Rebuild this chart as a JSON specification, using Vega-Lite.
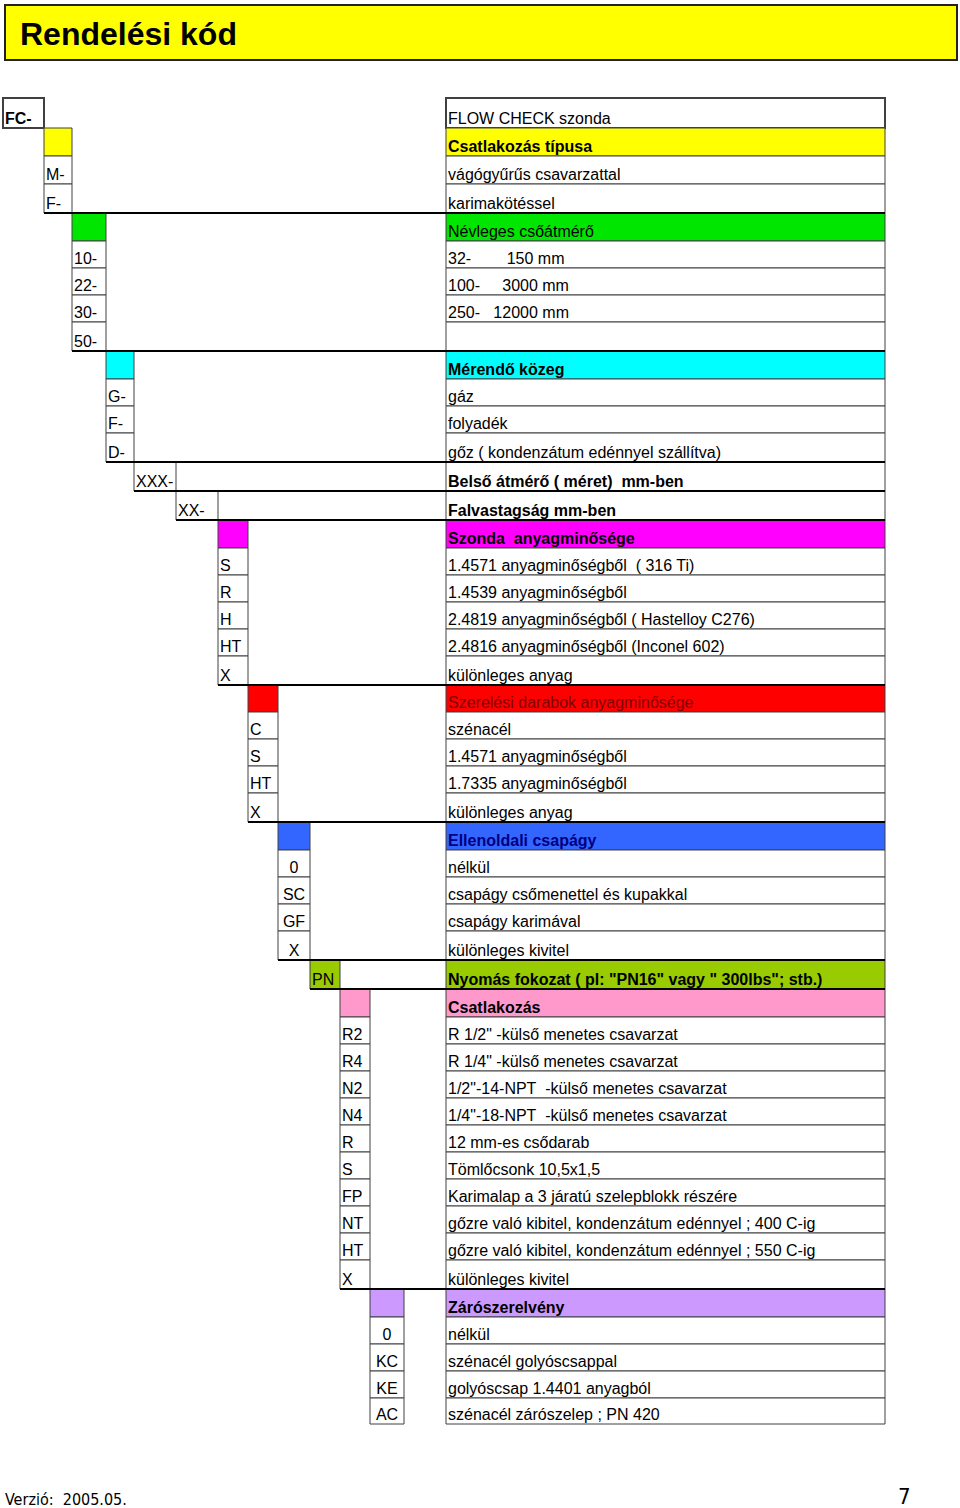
{
  "$schema": "https://vega.github.io/schema/vega-lite/v6.json",
  "width": 960,
  "height": 1508,
  "autosize": {"type": "none"},
  "padding": 0,
  "background": "white",
  "config": {"view": {"stroke": null}},
  "data": {"values": [
    {"r": 0, "c": 0, "code": "FC-", "desc": "FLOW CHECK szonda", "g": "FLOW CHECK", "k": "top"},
    {"r": 1, "c": 1, "code": "", "desc": "Csatlakozás típusa", "g": "Csatlakozás típusa", "k": "head"},
    {"r": 2, "c": 1, "code": "M-", "desc": "vágógyűrűs csavarzattal", "g": "Csatlakozás típusa", "k": "item"},
    {"r": 3, "c": 1, "code": "F-", "desc": "karimakötéssel", "g": "Csatlakozás típusa", "k": "item"},
    {"r": 4, "c": 2, "code": "", "desc": "\u00a0Névleges csőátmérő", "g": "Névleges csőátmérő", "k": "headplain"},
    {"r": 5, "c": 2, "code": "10-", "desc": "32-\u00a0\u00a0\u00a0\u00a0\u00a0\u00a0\u00a0\u00a0150 mm", "g": "Névleges csőátmérő", "k": "item"},
    {"r": 6, "c": 2, "code": "22-", "desc": "100-\u00a0\u00a0\u00a0\u00a0\u00a03000 mm", "g": "Névleges csőátmérő", "k": "item"},
    {"r": 7, "c": 2, "code": "30-", "desc": "250-\u00a0\u00a0\u00a012000 mm", "g": "Névleges csőátmérő", "k": "item"},
    {"r": 8, "c": 2, "code": "50-", "desc": "", "g": "Névleges csőátmérő", "k": "item"},
    {"r": 9, "c": 3, "code": "", "desc": "Mérendő közeg", "g": "Mérendő közeg", "k": "head"},
    {"r": 10, "c": 3, "code": "G-", "desc": "gáz", "g": "Mérendő közeg", "k": "item"},
    {"r": 11, "c": 3, "code": "F-", "desc": "folyadék", "g": "Mérendő közeg", "k": "item"},
    {"r": 12, "c": 3, "code": "D-", "desc": "gőz ( kondenzátum edénnyel szállítva)", "g": "Mérendő közeg", "k": "item"},
    {"r": 13, "c": 4, "code": "XXX-", "desc": "Belső átmérő ( méret)\u00a0\u00a0mm-ben", "g": "Belső átmérő", "k": "param"},
    {"r": 14, "c": 5, "code": "XX-", "desc": "Falvastagság mm-ben", "g": "Falvastagság", "k": "param"},
    {"r": 15, "c": 6, "code": "", "desc": "Szonda\u00a0\u00a0anyagminősége", "g": "Szonda anyagminősége", "k": "head"},
    {"r": 16, "c": 6, "code": "S", "desc": "1.4571 anyagminőségből\u00a0\u00a0( 316 Ti)", "g": "Szonda anyagminősége", "k": "item"},
    {"r": 17, "c": 6, "code": "R", "desc": "1.4539 anyagminőségből", "g": "Szonda anyagminősége", "k": "item"},
    {"r": 18, "c": 6, "code": "H", "desc": "2.4819 anyagminőségből ( Hastelloy C276)", "g": "Szonda anyagminősége", "k": "item"},
    {"r": 19, "c": 6, "code": "HT", "desc": "2.4816 anyagminőségből (Inconel 602)", "g": "Szonda anyagminősége", "k": "item"},
    {"r": 20, "c": 6, "code": "X", "desc": "különleges anyag", "g": "Szonda anyagminősége", "k": "item"},
    {"r": 21, "c": 7, "code": "", "desc": "Szerelési darabok anyagminősége", "g": "Szerelési darabok anyagminősége", "k": "headplain"},
    {"r": 22, "c": 7, "code": "C", "desc": "szénacél", "g": "Szerelési darabok anyagminősége", "k": "item"},
    {"r": 23, "c": 7, "code": "S", "desc": "1.4571 anyagminőségből", "g": "Szerelési darabok anyagminősége", "k": "item"},
    {"r": 24, "c": 7, "code": "HT", "desc": "1.7335 anyagminőségből", "g": "Szerelési darabok anyagminősége", "k": "item"},
    {"r": 25, "c": 7, "code": "X", "desc": "különleges anyag", "g": "Szerelési darabok anyagminősége", "k": "item"},
    {"r": 26, "c": 8, "code": "", "desc": "Ellenoldali csapágy", "g": "Ellenoldali csapágy", "k": "head"},
    {"r": 27, "c": 8, "code": "0", "desc": "nélkül", "g": "Ellenoldali csapágy", "k": "item"},
    {"r": 28, "c": 8, "code": "SC", "desc": "csapágy csőmenettel és kupakkal", "g": "Ellenoldali csapágy", "k": "item"},
    {"r": 29, "c": 8, "code": "GF", "desc": "csapágy karimával", "g": "Ellenoldali csapágy", "k": "item"},
    {"r": 30, "c": 8, "code": "X", "desc": "különleges kivitel", "g": "Ellenoldali csapágy", "k": "item"},
    {"r": 31, "c": 9, "code": "PN", "desc": "Nyomás fokozat ( pl: \"PN16\" vagy \" 300lbs\"; stb.)", "g": "Nyomás fokozat", "k": "pn"},
    {"r": 32, "c": 10, "code": "", "desc": "Csatlakozás", "g": "Csatlakozás", "k": "head"},
    {"r": 33, "c": 10, "code": "R2", "desc": "R 1/2\" -külső menetes csavarzat", "g": "Csatlakozás", "k": "item"},
    {"r": 34, "c": 10, "code": "R4", "desc": "R 1/4\" -külső menetes csavarzat", "g": "Csatlakozás", "k": "item"},
    {"r": 35, "c": 10, "code": "N2", "desc": "1/2\"-14-NPT\u00a0\u00a0-külső menetes csavarzat", "g": "Csatlakozás", "k": "item"},
    {"r": 36, "c": 10, "code": "N4", "desc": "1/4\"-18-NPT\u00a0\u00a0-külső menetes csavarzat", "g": "Csatlakozás", "k": "item"},
    {"r": 37, "c": 10, "code": "R", "desc": "12 mm-es csődarab", "g": "Csatlakozás", "k": "item"},
    {"r": 38, "c": 10, "code": "S", "desc": "Tömlőcsonk 10,5x1,5", "g": "Csatlakozás", "k": "item"},
    {"r": 39, "c": 10, "code": "FP", "desc": "Karimalap a 3 járatú szelepblokk részére", "g": "Csatlakozás", "k": "item"},
    {"r": 40, "c": 10, "code": "NT", "desc": "gőzre való kibitel, kondenzátum edénnyel ; 400 C-ig", "g": "Csatlakozás", "k": "item"},
    {"r": 41, "c": 10, "code": "HT", "desc": "gőzre való kibitel, kondenzátum edénnyel ; 550 C-ig", "g": "Csatlakozás", "k": "item"},
    {"r": 42, "c": 10, "code": "X", "desc": "különleges kivitel", "g": "Csatlakozás", "k": "item"},
    {"r": 43, "c": 11, "code": "", "desc": "Zárószerelvény", "g": "Zárószerelvény", "k": "head"},
    {"r": 44, "c": 11, "code": "0", "desc": "nélkül", "g": "Zárószerelvény", "k": "item"},
    {"r": 45, "c": 11, "code": "KC", "desc": "szénacél golyóscsappal", "g": "Zárószerelvény", "k": "item"},
    {"r": 46, "c": 11, "code": "KE", "desc": "golyóscsap 1.4401 anyagból", "g": "Zárószerelvény", "k": "item"},
    {"r": 47, "c": 11, "code": "AC", "desc": "szénacél zárószelep ; PN 420", "g": "Zárószerelvény", "k": "item"}
  ]},
  "transform": [
    {"calculate": "datum.r + 1", "as": "rb"},
    {"calculate": "datum.c + 1", "as": "c1"},
    {"calculate": "datum.c + 0.5", "as": "cm"}
  ],
  "layer": [
    {
      "mark": {"type": "rect", "stroke": "#404040"},
      "encoding": {
        "x": {"field": "c", "type": "quantitative", "axis": null, "scale": {"type": "linear", "domain": [0,1,2,3,4,5,6,7,8,9,10,11,12,13,14,15], "range": [3,44,72,106,134,176,218,248,278,310,340,370,404,446,885,957], "nice": false, "zero": false}},
        "x2": {"field": "c1"},
        "y": {"field": "r", "type": "quantitative", "axis": null, "scale": {"type": "linear", "domain": [-3,-2,0,1,2,3,4,5,6,7,8,9,10,11,12,13,14,15,16,17,18,19,20,21,22,23,24,25,26,27,28,29,30,31,32,33,34,35,36,37,38,39,40,41,42,43,44,45,46,47,48,49], "range": [5,60,98,128,156,184,213,241,268,295,322,351,379,406,433,462,491,520,548,575,602,629,656,685,712,739,766,793,822,850,877,904,931,960,989,1017,1044,1071,1098,1125,1152,1179,1206,1233,1260,1289,1317,1344,1371,1398,1424,1505], "nice": false, "zero": false}},
        "y2": {"field": "rb"},
        "fill": {
          "condition": {"test": "datum.k === 'head' || datum.k === 'headplain' || datum.k === 'pn'", "field": "g", "type": "nominal", "legend": null,
            "scale": {"domain": ["Csatlakozás típusa", "Névleges csőátmérő", "Mérendő közeg", "Szonda anyagminősége", "Szerelési darabok anyagminősége", "Ellenoldali csapágy", "Nyomás fokozat", "Csatlakozás", "Zárószerelvény"],
                      "range": ["#ffff00", "#00e600", "#00ffff", "#ff00ff", "#ff0000", "#3366ff", "#99cc00", "#ff99cc", "#cc99ff"]}},
          "value": "white"
        },
        "strokeWidth": {"condition": {"test": "datum.k === 'top'", "value": 2}, "value": 1}
      }
    },
    {
      "mark": {"type": "rect", "stroke": "#404040"},
      "encoding": {
        "x": {"datum": 13, "type": "quantitative"},
        "x2": {"datum": 14},
        "y": {"field": "r", "type": "quantitative"},
        "y2": {"field": "rb"},
        "fill": {
          "condition": {"test": "datum.k === 'head' || datum.k === 'headplain' || datum.k === 'pn'", "field": "g", "type": "nominal", "legend": null},
          "value": "white"
        },
        "strokeWidth": {"condition": {"test": "datum.k === 'top'", "value": 2}, "value": 1}
      }
    },
    {
      "transform": [
        {"joinaggregate": [{"op": "max", "field": "r", "as": "mr"}], "groupby": ["g"]},
        {"filter": "datum.r === datum.mr && datum.k !== 'top' && datum.g !== 'Zárószerelvény'"}
      ],
      "mark": {"type": "rule", "color": "#000000", "strokeWidth": 2},
      "encoding": {
        "x": {"field": "c", "type": "quantitative"},
        "x2": {"datum": 14},
        "y": {"field": "rb", "type": "quantitative"}
      }
    },
    {
      "transform": [{"filter": "datum.code !== '' && datum.k !== 'top' && datum.g !== 'Ellenoldali csapágy' && datum.g !== 'Zárószerelvény'"}],
      "mark": {"type": "text", "align": "left", "baseline": "alphabetic", "dx": 2, "dy": -4, "fontSize": 16, "font": "Liberation Sans", "color": "#000000"},
      "encoding": {
        "x": {"field": "c", "type": "quantitative"},
        "y": {"field": "rb", "type": "quantitative"},
        "text": {"field": "code"}
      }
    },
    {
      "transform": [{"filter": "datum.k === 'top'"}],
      "mark": {"type": "text", "align": "left", "baseline": "alphabetic", "dx": 2, "dy": -4, "fontSize": 16, "fontWeight": "bold", "font": "Liberation Sans", "color": "#000000"},
      "encoding": {
        "x": {"field": "c", "type": "quantitative"},
        "y": {"field": "rb", "type": "quantitative"},
        "text": {"field": "code"}
      }
    },
    {
      "transform": [{"filter": "datum.code !== '' && (datum.g === 'Ellenoldali csapágy' || datum.g === 'Zárószerelvény')"}],
      "mark": {"type": "text", "align": "center", "baseline": "alphabetic", "dy": -4, "fontSize": 16, "font": "Liberation Sans", "color": "#000000"},
      "encoding": {
        "x": {"field": "cm", "type": "quantitative"},
        "y": {"field": "rb", "type": "quantitative"},
        "text": {"field": "code"}
      }
    },
    {
      "transform": [{"filter": "datum.k !== 'head' && datum.k !== 'param' && datum.k !== 'pn'"}],
      "mark": {"type": "text", "align": "left", "baseline": "alphabetic", "dx": 2, "dy": -4, "fontSize": 16, "font": "Liberation Sans"},
      "encoding": {
        "x": {"datum": 13, "type": "quantitative"},
        "y": {"field": "rb", "type": "quantitative"},
        "text": {"field": "desc"},
        "color": {"condition": {"test": "datum.k === 'headplain' && datum.g === 'Szerelési darabok anyagminősége'", "value": "#800000"}, "value": "#000000"}
      }
    },
    {
      "transform": [{"filter": "datum.k === 'head' || datum.k === 'param' || datum.k === 'pn'"}],
      "mark": {"type": "text", "align": "left", "baseline": "alphabetic", "dx": 2, "dy": -4, "fontSize": 16, "fontWeight": "bold", "font": "Liberation Sans"},
      "encoding": {
        "x": {"datum": 13, "type": "quantitative"},
        "y": {"field": "rb", "type": "quantitative"},
        "text": {"field": "desc"},
        "color": {"condition": {"test": "datum.g === 'Ellenoldali csapágy'", "value": "#000080"}, "value": "#000000"}
      }
    },
    {
      "data": {"values": [{"t": "Rendelési kód"}]},
      "mark": {"type": "rect", "fill": "#ffff00", "stroke": "#222222", "strokeWidth": 2, "xOffset": 2},
      "encoding": {
        "x": {"datum": 0, "type": "quantitative"},
        "x2": {"datum": 15},
        "y": {"datum": -3, "type": "quantitative"},
        "y2": {"datum": -2}
      }
    },
    {
      "data": {"values": [{"t": "Rendelési kód"}]},
      "mark": {"type": "text", "align": "left", "baseline": "alphabetic", "dx": 17, "dy": -15, "fontSize": 32, "fontWeight": "bold", "font": "Liberation Sans", "color": "#000000"},
      "encoding": {
        "x": {"datum": 0, "type": "quantitative"},
        "y": {"datum": -2, "type": "quantitative"},
        "text": {"field": "t"}
      }
    },
    {
      "data": {"values": [{"t": "Verzió:\u00a0\u00a02005.05."}]},
      "mark": {"type": "text", "align": "left", "baseline": "alphabetic", "dx": 2, "dy": 0, "fontSize": 16, "font": "Liberation Sans Narrow, DejaVu Sans Condensed, sans-serif", "color": "#000000"},
      "encoding": {
        "x": {"datum": 0, "type": "quantitative"},
        "y": {"datum": 49, "type": "quantitative"},
        "text": {"field": "t"}
      }
    },
    {
      "data": {"values": [{"t": "7"}]},
      "mark": {"type": "text", "align": "left", "baseline": "alphabetic", "dx": 13, "dy": -1, "fontSize": 22, "font": "Liberation Sans Narrow, DejaVu Sans Condensed, sans-serif", "color": "#000000"},
      "encoding": {
        "x": {"datum": 14, "type": "quantitative"},
        "y": {"datum": 49, "type": "quantitative"},
        "text": {"field": "t"}
      }
    }
  ]
}
